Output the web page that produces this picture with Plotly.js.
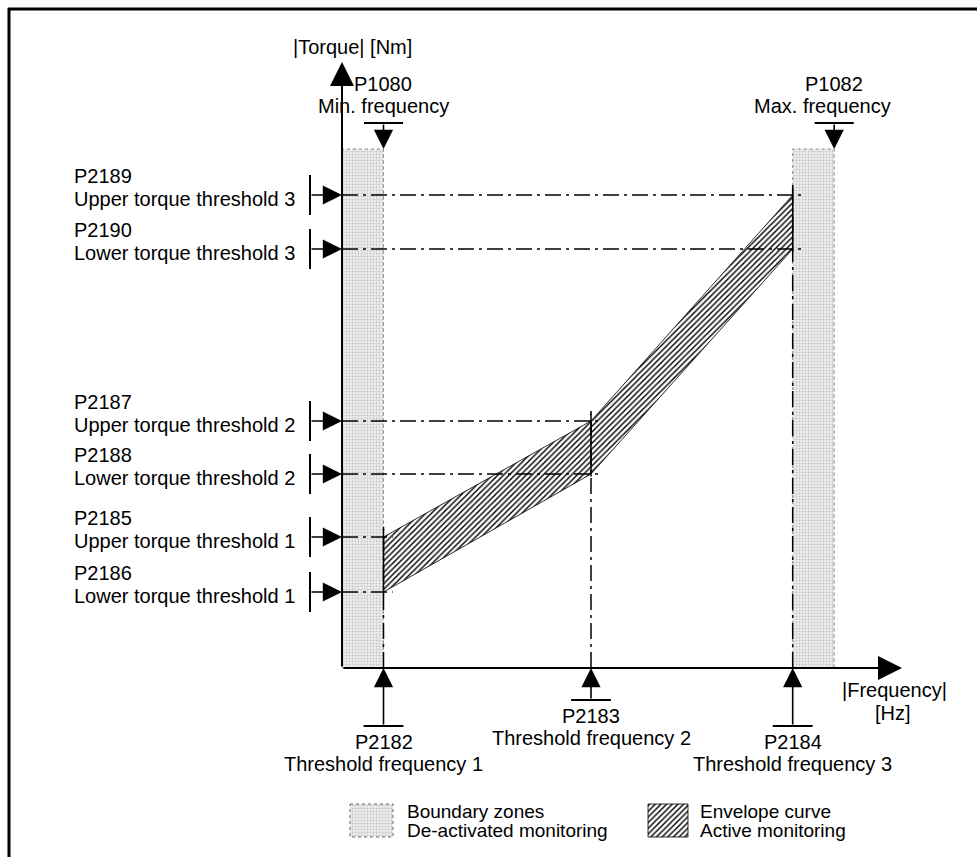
<!DOCTYPE html>
<html><head><meta charset="utf-8">
<script src="https://cdn.plot.ly/plotly-3.0.1.min.js"></script>
<style>html,body{margin:0;padding:0;background:#fff;}</style>
</head><body><div id="chart" style="width:977px;height:857px;"></div>
<script>
// ---------------- data (schematic values) ----------------
const thresholdParams = ['P2182', 'P2183', 'P2184'];
const thresholdNames  = ['Threshold frequency 1', 'Threshold frequency 2', 'Threshold frequency 3'];
const thresholdFreq   = [5, 30, 54.3];            // Hz (schematic)
const upperParams = ['P2185', 'P2187', 'P2189'];
const upperNames  = ['Upper torque threshold 1', 'Upper torque threshold 2', 'Upper torque threshold 3'];
const upperTorque = [26.2, 49.4, 94.6];            // Nm (schematic)
const lowerParams = ['P2186', 'P2188', 'P2190'];
const lowerNames  = ['Lower torque threshold 1', 'Lower torque threshold 2', 'Lower torque threshold 3'];
const lowerTorque = [15.2, 38.8, 83.8];
const limitParams = ['P1080', 'P1082'];
const limitNames  = ['Min. frequency', 'Max. frequency'];
const limitFreq   = [5, 59.3];
const zoneTop     = 103.8;
const legendTexts = [['Boundary zones', 'De-activated monitoring'], ['Envelope curve', 'Active monitoring']];

// ---------------- layout helpers (page position -> axis units) ----------------
const KX = 8.3, KY = 5, OX = 342, OY = 668, W = 977, H = 857;
const PX = p => (p - OX) / KX;
const PY = p => (OY - p) / KY;
const FONT = 'Liberation Sans, Arial, Helvetica, sans-serif';
const DASHDOT = '16px,5px,3px,5px';

const stipple = {shape: '.', size: 3, solidity: 0.3, fgcolor: '#c4c4c4', bgcolor: '#eeeeee'};
const hatch   = {shape: '/', size: 4, solidity: 0.36, fgcolor: '#000', bgcolor: '#fff'};

const traces = [];
// boundary zones
traces.push({x: [0, limitFreq[0], limitFreq[0], 0, 0], y: [0, 0, zoneTop, zoneTop, 0],
  mode: 'lines', fill: 'toself', fillpattern: stipple, fillcolor: '#eeeeee',
  line: {color: '#888', width: 1, dash: 'dot'}, hoverinfo: 'skip'});
traces.push({x: [thresholdFreq[2], limitFreq[1], limitFreq[1], thresholdFreq[2], thresholdFreq[2]], y: [0, 0, zoneTop, zoneTop, 0],
  mode: 'lines', fill: 'toself', fillpattern: stipple, fillcolor: '#eeeeee',
  line: {color: '#888', width: 1, dash: 'dot'}, hoverinfo: 'skip'});
// envelope curve
traces.push({x: thresholdFreq.concat(thresholdFreq.slice().reverse(), [thresholdFreq[0]]),
  y: upperTorque.concat(lowerTorque.slice().reverse(), [upperTorque[0]]),
  mode: 'lines', fill: 'toself', fillpattern: hatch, fillcolor: '#fff',
  line: {color: '#000', width: 0.8}, hoverinfo: 'skip'});
// dash-dot reference lines
const hx = [], hy = [];
thresholdFreq.forEach((f, i) => {
  [upperTorque[i], lowerTorque[i]].forEach(t => { hx.push(0, f + 1.1, null); hy.push(t, t, null); });
  hx.push(f, f, null); hy.push(0, upperTorque[i] + 1.5, null);
});
traces.push({x: hx, y: hy, mode: 'lines', line: {color: '#000', width: 1.5, dash: DASHDOT}, hoverinfo: 'skip'});
// solid envelope edges at the threshold frequencies
const vx = [], vy = [];
thresholdFreq.forEach((f, i) => { vx.push(f, f, null); vy.push(lowerTorque[i] - 0.5, upperTorque[i] + 2, null); });
traces.push({x: vx, y: vy, mode: 'lines', line: {color: '#000', width: 1.5}, hoverinfo: 'skip'});
// legend keys
traces.push({x: [PX(350), PX(393), PX(393), PX(350), PX(350)], y: [PY(804), PY(804), PY(837), PY(837), PY(804)],
  mode: 'lines', fill: 'toself', fillpattern: stipple, fillcolor: '#eeeeee', line: {color: '#666', width: 1, dash: 'dot'}, hoverinfo: 'skip'});
traces.push({x: [PX(648), PX(688), PX(688), PX(648), PX(648)], y: [PY(804), PY(804), PY(837), PY(837), PY(804)],
  mode: 'lines', fill: 'toself', fillpattern: hatch, fillcolor: '#fff', line: {color: '#000', width: 0.8}, hoverinfo: 'skip'});

// ---------------- annotations ----------------
const ann = [];
const txt = (text, x, y, anchor, size) => ({x, y, xref: 'x', yref: 'y', text, showarrow: false,
  xanchor: anchor || 'center', yanchor: 'middle', font: {family: FONT, size: size || 20, color: '#000'}});
const arrow = (xh, yh, xt, yt, w, s) => ({x: xh, y: yh, ax: xt, ay: yt, xref: 'x', yref: 'y', axref: 'x', ayref: 'y',
  text: '', showarrow: true, arrowhead: 2, arrowsize: s || 2.4, arrowwidth: w || 1.6, arrowcolor: '#000', standoff: 0, startstandoff: 0});
const shapes = [];
const seg = (x0, y0, x1, y1, w) => ({type: 'line', xref: 'x', yref: 'y', x0, y0, x1, y1, line: {color: '#000', width: w || 2}});

// axes
ann.push(arrow(0, PY(62), 0, 0, 2, 2.4));
ann.push(arrow(PX(902), 0, 0, 0, 2, 2.4));
ann.push(txt('|Torque| [Nm]', PX(352), PY(47)));
ann.push(txt('|Frequency|', PX(894), PY(690)));
ann.push(txt('[Hz]', PX(893), PY(713)));

// torque thresholds (left side)
const tailX = PX(310);
const addTorque = (t, p, n) => {
  ann.push(arrow(0, t, tailX, t));
  shapes.push(seg(tailX, t - 4, tailX, t + 4, 2));
  ann.push(txt(p, PX(72), t + 3.8, 'left'));
  ann.push(txt(n, PX(72), t - 0.7, 'left'));
};
upperTorque.forEach((t, i) => addTorque(t, upperParams[i], upperNames[i]));
lowerTorque.forEach((t, i) => addTorque(t, lowerParams[i], lowerNames[i]));

// threshold frequencies (bottom)
const tailY = [PY(726), PY(700), PY(726)];
thresholdFreq.forEach((f, i) => {
  ann.push(arrow(f, 0, f, tailY[i]));
  shapes.push(seg(f - 2.4, tailY[i], f + 2.4, tailY[i], 2));
  ann.push(txt(thresholdParams[i], f, tailY[i] - 3.2));
  ann.push(txt(thresholdNames[i], f, tailY[i] - 7.6));
});

// min / max frequency (top)
const topTail = PY(123);
limitFreq.forEach((f, i) => {
  ann.push(arrow(f, zoneTop, f, topTail));
  shapes.push(seg(f - 2.35, topTail, f + 2.35, topTail, 2));
  ann.push(txt(limitParams[i], f - 0.1 + i * 0.1, PY(84)));
  ann.push(txt(limitNames[i], f + (i ? -1.4 : 0), PY(106)));
});

// legend texts
ann.push(txt(legendTexts[0][0], PX(405), PY(811), 'left', 19));
ann.push(txt(legendTexts[0][1], PX(405), PY(830), 'left', 19));
ann.push(txt(legendTexts[1][0], PX(698), PY(811), 'left', 19));
ann.push(txt(legendTexts[1][1], PX(698), PY(830), 'left', 19));

// frame
shapes.push({type: 'line', xref: 'paper', yref: 'paper', x0: 8 / W, x1: 1, y0: 1 - 9 / H, y1: 1 - 9 / H, line: {color: '#000', width: 3}});
shapes.push({type: 'line', xref: 'paper', yref: 'paper', x0: 9 / W, x1: 9 / W, y0: 0, y1: 1 - 8 / H, line: {color: '#000', width: 3}});

const layout = {
  width: W, height: H, autosize: false,
  margin: {l: 0, r: 0, t: 0, b: 0, pad: 0},
  paper_bgcolor: '#fff', plot_bgcolor: '#fff',
  showlegend: false,
  xaxis: {range: [PX(0), PX(W)], visible: false, fixedrange: true},
  yaxis: {range: [PY(H), PY(0)], visible: false, fixedrange: true},
  annotations: ann, shapes: shapes,
  font: {family: FONT, color: '#000'}
};
Plotly.newPlot('chart', traces, layout, {displayModeBar: false, staticPlot: true});
</script></body></html>
